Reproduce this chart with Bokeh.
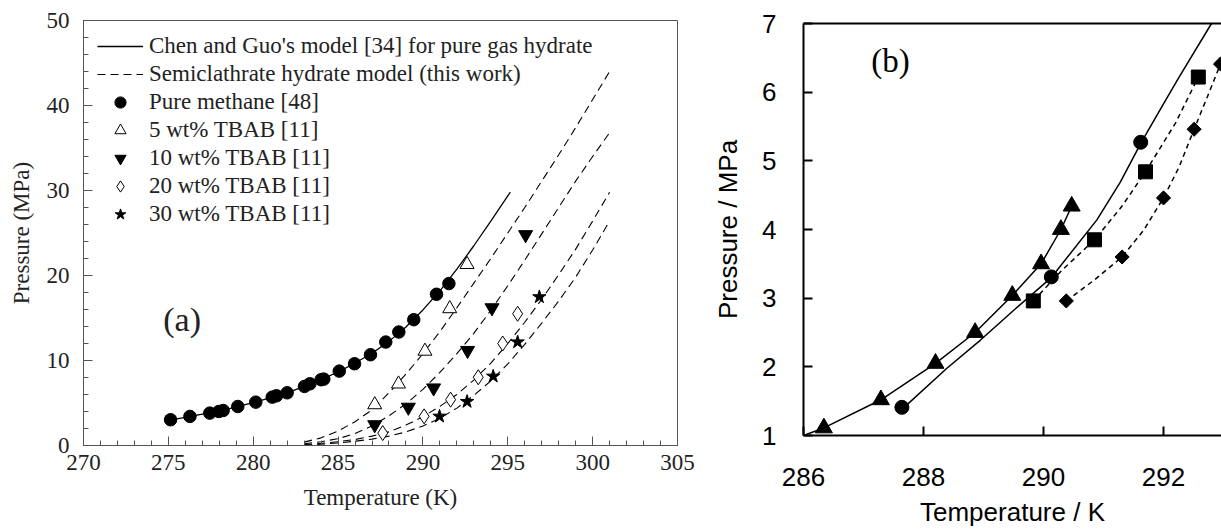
import numpy as np
from bokeh.plotting import figure
from bokeh.layouts import row, column
from bokeh.models import Legend, LegendItem, FixedTicker, LinearAxis, Label, Range1d
from bokeh.embed import file_html
from bokeh.resources import INLINE

# ---------------- Panel (a) data ----------------
methane_T = [275.13, 276.27, 277.44, 277.97, 278.23, 279.09, 280.15, 281.12, 281.37, 282.0, 283.02,
             283.34, 284.0, 284.16, 285.07, 285.97, 286.91, 287.81, 288.58, 289.46, 290.8, 291.53]
methane_P = [3.03, 3.42, 3.81, 4.0, 4.12, 4.59, 5.1, 5.69, 5.85, 6.2, 6.95,
             7.26, 7.74, 7.81, 8.75, 9.62, 10.68, 12.17, 13.35, 14.8, 17.79, 19.05]

chen_T = [275.0, 276, 277, 278, 279, 280, 281, 282, 283, 284, 285, 286, 287, 288, 289, 290, 291, 292, 293, 294, 295.15]
chen_P = [2.95, 3.3, 3.7, 4.05, 4.55, 5.05, 5.6, 6.2, 6.95, 7.75, 8.65, 9.7, 10.85, 12.25, 13.95, 15.95, 18.2, 20.75, 23.5, 26.4, 29.8]

tbab5_T = [287.16, 288.56, 290.12, 291.58, 292.6]
tbab5_P = [4.8, 7.24, 11.1, 16.1, 21.3]
tbab10_T = [287.16, 289.14, 290.63, 292.63, 294.07, 296.05]
tbab10_P = [2.44, 4.5, 6.77, 11.18, 16.2, 24.8]
tbab20_T = [287.63, 290.07, 291.63, 293.26, 294.7, 295.58]
tbab20_P = [1.46, 3.43, 5.39, 8.03, 12.0, 15.5]
tbab30_T = [290.98, 292.6, 294.14, 295.58, 296.86]
tbab30_P = [3.43, 5.16, 8.14, 12.17, 17.48]

model_T = [283, 284, 285, 286, 287, 288, 289, 290, 291, 292, 293, 294, 295, 296, 297, 298, 299, 300, 301]
model5_P = [0.4, 0.9, 1.7, 2.8, 4.2, 6.2, 8.4, 10.8, 13.4, 16.2, 19.1, 22.0, 25.0, 28.0, 31.1, 34.2, 37.4, 40.7, 44.0]
model10_P = [0.2, 0.45, 0.8, 1.4, 2.3, 3.5, 4.9, 6.6, 8.6, 10.8, 13.2, 15.9, 18.8, 21.8, 24.9, 28.0, 31.1, 34.0, 36.8]
model20_P = [0.1, 0.25, 0.45, 0.7, 1.1, 1.6, 2.4, 3.4, 4.6, 6.0, 7.7, 9.7, 12.0, 14.5, 17.2, 20.1, 23.1, 26.4, 29.8]
model30_P = [0.05, 0.15, 0.3, 0.5, 0.75, 1.1, 1.6, 2.3, 3.2, 4.4, 5.9, 7.6, 9.6, 11.9, 14.4, 17.0, 19.8, 23.0, 26.4]

a_xticks = [270, 275, 280, 285, 290, 295, 300, 305]
a_yticks = [0, 10, 20, 30, 40, 50]

# ---------------- Panel (b) data ----------------
tri_T = [286.34, 287.29, 288.2, 288.86, 289.48, 289.96, 290.29, 290.47]
tri_P = [1.11, 1.52, 2.05, 2.50, 3.04, 3.50, 4.0, 4.34]
tri_line_T = [286.0, 286.34, 287.29, 288.2, 288.86, 289.48, 289.96, 290.29, 290.47]
tri_line_P = [1.0, 1.11, 1.52, 2.05, 2.50, 3.04, 3.50, 4.0, 4.34]

circ_T = [287.64, 290.13, 291.62]
circ_P = [1.41, 3.31, 5.27]
circ_line_T = [287.64, 288.39, 288.95, 289.5, 290.13, 290.89, 291.28, 291.63, 292.0, 292.26, 292.8]
circ_line_P = [1.38, 1.98, 2.39, 2.82, 3.30, 4.14, 4.69, 5.27, 5.83, 6.22, 7.0]

sq_T = [289.83, 290.85, 291.7, 292.58]
sq_P = [2.96, 3.85, 4.84, 6.22]
sq_line_T = [289.83, 290.3, 290.85, 291.3, 291.7, 292.2, 292.58]
sq_line_P = [2.96, 3.40, 3.85, 4.33, 4.84, 5.55, 6.22]

dia_T = [290.38, 291.31, 292.0, 292.51, 292.95]
dia_P = [2.96, 3.60, 4.46, 5.46, 6.41]
dia_line_T = [290.38, 290.84, 291.31, 291.67, 292.0, 292.26, 292.51, 292.73, 292.95]
dia_line_P = [2.96, 3.26, 3.60, 3.99, 4.46, 4.91, 5.46, 5.93, 6.41]

b_xticks = [286, 288, 290, 292]
b_yticks = [1, 2, 3, 4, 5, 6, 7]

SERIF = "Liberation Serif"
SANS = "Liberation Sans"
NAN = [float("nan")]

# ================= Panel (a) =================
pa = figure(width=700, height=529, output_backend="svg", toolbar_location=None,
            x_range=Range1d(270, 305), y_range=Range1d(0, 50))
pa.min_border_left = 83
pa.min_border_right = 23
pa.min_border_top = 20
pa.min_border_bottom = 84
pa.background_fill_color = "white"
pa.border_fill_color = "white"
pa.outline_line_color = "#555555"
pa.outline_line_width = 1
pa.xgrid.visible = False
pa.ygrid.visible = False

ax_x = pa.below[0]
ax_y = pa.left[0]
ax_x.ticker = FixedTicker(ticks=a_xticks, minor_ticks=list(range(270, 306)))
ax_y.ticker = FixedTicker(ticks=a_yticks, minor_ticks=list(range(0, 51, 2)))
for ax in (ax_x, ax_y):
    ax.axis_line_color = "#555555"
    ax.major_tick_line_color = "#555555"
    ax.minor_tick_line_color = "#555555"
    ax.major_tick_in = 9
    ax.major_tick_out = 0
    ax.minor_tick_in = 5
    ax.minor_tick_out = 0
    ax.major_label_text_font = SERIF
    ax.major_label_text_font_size = "23px"
    ax.major_label_text_color = "#222222"
    ax.axis_label_text_font = SERIF
    ax.axis_label_text_font_size = "23px"
    ax.axis_label_text_font_style = "normal"
    ax.axis_label_text_color = "#222222"
ax_x.axis_label = "Temperature (K)"
ax_y.axis_label = "Pressure (MPa)"
ax_x.major_label_standoff = 9
ax_x.axis_label_standoff = 12
ax_y.major_label_standoff = 14
ax_y.axis_label_standoff = 10

dash = "8 5"
r_chen = pa.line(chen_T, chen_P, line_color="black", line_width=1.3)
r_m5 = pa.line(model_T, model5_P, line_color="black", line_width=1.1, line_dash=dash)
pa.line(model_T, model10_P, line_color="black", line_width=1.1, line_dash=dash)
pa.line(model_T, model20_P, line_color="black", line_width=1.1, line_dash=dash)
pa.line(model_T, model30_P, line_color="black", line_width=1.1, line_dash=dash)

pa.scatter(methane_T, methane_P, marker="circle", size=12.5, fill_color="black", line_color="black")
pa.scatter(tbab5_T, tbab5_P, marker="triangle", size=14, fill_color="white", line_color="black", line_width=1)
pa.scatter(tbab10_T, tbab10_P, marker="inverted_triangle", size=14, fill_color="black", line_color="black")
pa.scatter(tbab20_T, tbab20_P, marker="diamond", size=15, fill_color="white", line_color="black", line_width=1)
pa.scatter(tbab30_T, tbab30_P, marker="star", size=14, fill_color="black", line_color="black")

# legend-only glyphs (smaller markers as in the original legend); NaN data so nothing is plotted
lg_c = pa.scatter(x=NAN, y=NAN, marker="circle", size=10, fill_color="black", line_color="black")
lg_t = pa.scatter(x=NAN, y=NAN, marker="triangle", size=11, fill_color="white", line_color="black")
lg_it = pa.scatter(x=NAN, y=NAN, marker="inverted_triangle", size=11, fill_color="black", line_color="black")
lg_d = pa.scatter(x=NAN, y=NAN, marker="diamond", size=13, fill_color="white", line_color="black")
lg_s = pa.scatter(x=NAN, y=NAN, marker="star", size=11, fill_color="black", line_color="black")

legend = Legend(items=[
    LegendItem(label="Chen and Guo's model [34] for pure gas hydrate", renderers=[r_chen]),
    LegendItem(label="Semiclathrate hydrate model (this work)", renderers=[r_m5]),
    LegendItem(label="Pure methane [48]", renderers=[lg_c]),
    LegendItem(label="5 wt% TBAB [11]", renderers=[lg_t]),
    LegendItem(label="10 wt% TBAB [11]", renderers=[lg_it]),
    LegendItem(label="20 wt% TBAB [11]", renderers=[lg_d]),
    LegendItem(label="30 wt% TBAB [11]", renderers=[lg_s]),
], location=(14, 217))
legend.border_line_color = None
legend.background_fill_alpha = 0
legend.padding = 0
legend.margin = 0
legend.spacing = 0
legend.glyph_width = 46
legend.glyph_height = 28
legend.label_height = 28
legend.label_standoff = 6
legend.label_text_font = SERIF
legend.label_text_font_size = "23px"
legend.label_text_color = "#222222"
pa.add_layout(legend)

pa.add_layout(Label(x=274.7, y=14.8, text="(a)", text_font=SERIF, text_font_size="34px",
                    text_baseline="middle", text_align="left", text_color="#222222"))

# ================= Panel (b) =================
b_xend = 286 + (1221 - 803) / 60.0
pb = figure(width=521, height=529, output_backend="svg", toolbar_location=None,
            x_range=Range1d(286, b_xend), y_range=Range1d(1, 7))
pb.min_border_left = 103
pb.min_border_right = 0
pb.min_border_top = 23
pb.min_border_bottom = 92
pb.background_fill_color = "white"
pb.border_fill_color = "white"
pb.outline_line_color = None
pb.xgrid.visible = False
pb.ygrid.visible = False

bx = pb.below[0]
by = pb.left[0]
bx.ticker = FixedTicker(ticks=b_xticks)
by.ticker = FixedTicker(ticks=b_yticks)
for ax in (bx, by):
    ax.axis_line_color = "black"
    ax.axis_line_width = 2
    ax.major_tick_line_color = "black"
    ax.major_tick_line_width = 2
    ax.major_tick_in = 9
    ax.major_tick_out = 0
    ax.minor_tick_line_color = None
    ax.major_label_text_font = SANS
    ax.major_label_text_font_size = "26px"
    ax.major_label_text_color = "black"
    ax.axis_label_text_font = SANS
    ax.axis_label_text_font_size = "26px"
    ax.axis_label_text_font_style = "normal"
    ax.axis_label_text_color = "black"
bx.axis_label = "Temperature / K"
by.axis_label = "Pressure / MPa"
bx.major_label_standoff = 32
bx.axis_label_standoff = 8
by.major_label_standoff = 27
by.axis_label_standoff = 16

top_axis = LinearAxis(ticker=FixedTicker(ticks=[]), axis_line_color="black", axis_line_width=2,
                      major_label_text_font_size="0px", major_tick_line_color=None,
                      minor_tick_line_color=None, major_tick_in=0, major_tick_out=0,
                      minor_tick_in=0, minor_tick_out=0, major_label_standoff=0)
pb.add_layout(top_axis, "above")

pb.line(tri_line_T, tri_line_P, line_color="black", line_width=1.5)
pb.line(circ_line_T, circ_line_P, line_color="black", line_width=1.5)
pb.line(sq_line_T, sq_line_P, line_color="black", line_width=1.5, line_dash="5 4")
pb.line(dia_line_T, dia_line_P, line_color="black", line_width=1.5, line_dash="5 4")

pb.scatter(tri_T, tri_P, marker="triangle", size=17, fill_color="black", line_color="black")
pb.scatter(circ_T, circ_P, marker="circle", size=14, fill_color="black", line_color="black")
pb.scatter(sq_T, sq_P, marker="square", size=14, fill_color="black", line_color="black")
pb.scatter(dia_T, dia_P, marker="square", size=10, angle=np.pi / 4, fill_color="black", line_color="black")

pb.add_layout(Label(x=287.13, y=6.45, text="(b)", text_font=SERIF, text_font_size="33px",
                    text_baseline="middle", text_align="left", text_color="black"))

layout = row(column(pa), column(pb), spacing=0)
open("out.html", "w").write(file_html(layout, INLINE))
